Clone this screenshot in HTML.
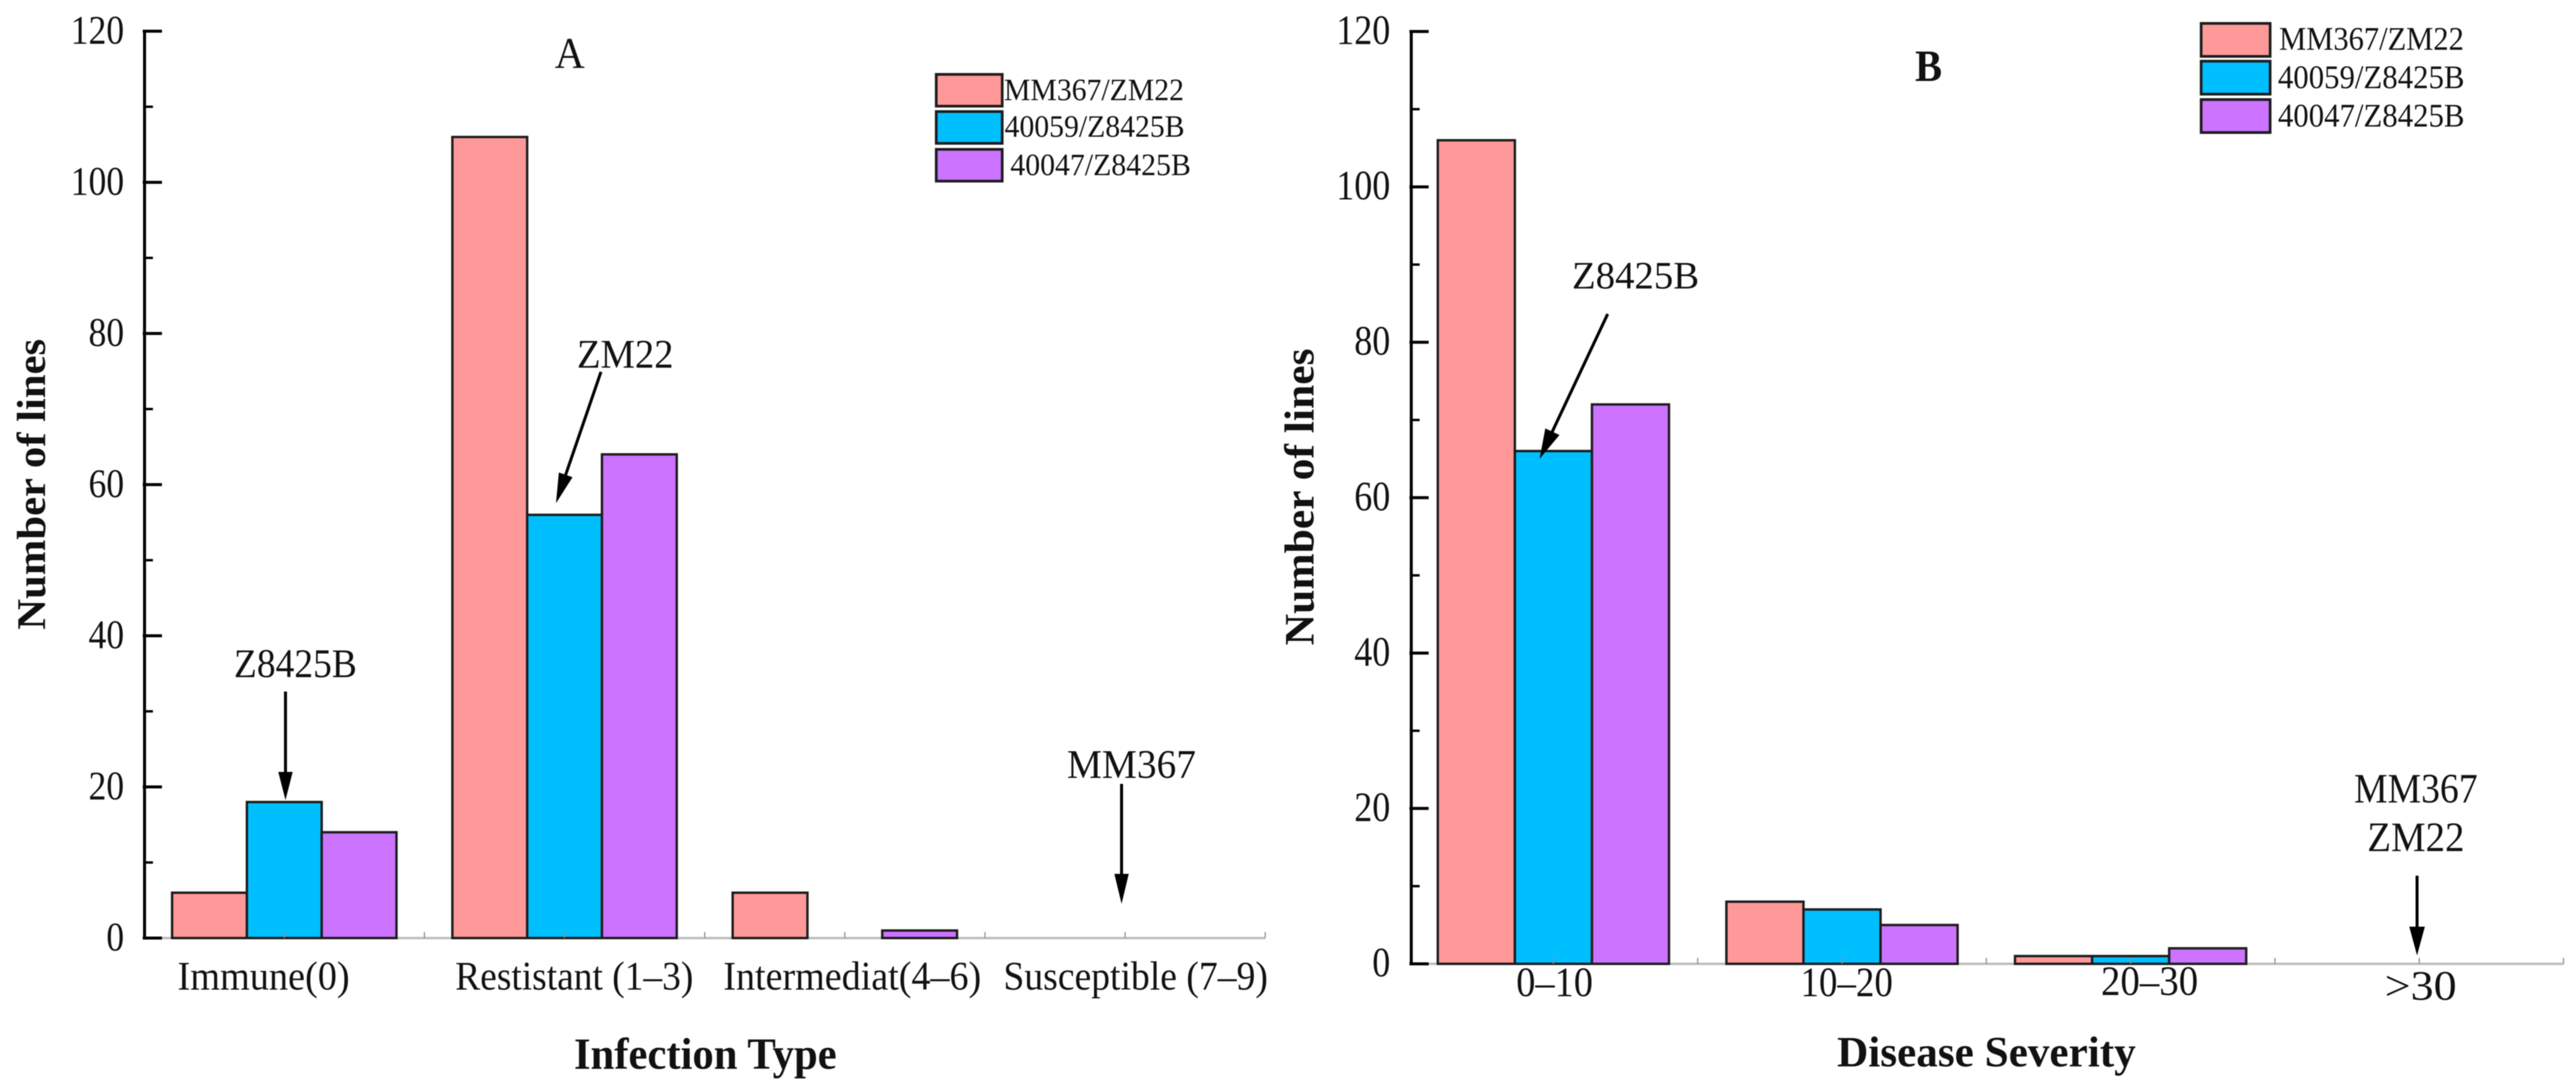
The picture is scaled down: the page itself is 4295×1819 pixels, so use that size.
<!DOCTYPE html>
<html lang="en">
<head>
<meta charset="utf-8">
<title>Number of lines by infection type and disease severity</title>
<style>
  html, body { margin: 0; padding: 0; background: #fff; }
  body { width: 4295px; height: 1819px; overflow: hidden; }
  svg { display: block; filter: blur(0.9px); }
  text { font-family: "Liberation Serif", "Times New Roman", serif; fill: #111; }
</style>
</head>
<body>
<svg id="figure" xmlns="http://www.w3.org/2000/svg" width="4295" height="1819" viewBox="0 0 4295 1819">
  <rect x="0" y="0" width="4295" height="1819" fill="#fff"/>
  <g id="panel-a"></g>
  <g id="panel-b"></g>

  <g>
    <text x="925" y="113" font-size="73" textLength="50" lengthAdjust="spacingAndGlyphs">A</text>

    <text x="962" y="613" font-size="68" textLength="161" lengthAdjust="spacingAndGlyphs">ZM22</text>
    <g>
      <line x1="1002" y1="620" x2="943" y2="792" stroke="#000" stroke-width="5"/>
      <polygon points="927,839 954.6,795.6 931.8,787.8" fill="#000"/>
    </g>

    <text x="390" y="1129" font-size="68" textLength="205" lengthAdjust="spacingAndGlyphs">Z8425B</text>
    <g>
      <line x1="476" y1="1153" x2="476" y2="1290" stroke="#000" stroke-width="5"/>
      <polygon points="476,1334 464,1287 488,1287" fill="#000"/>
    </g>

    <text x="1779" y="1297" font-size="68" textLength="215" lengthAdjust="spacingAndGlyphs">MM367</text>
    <g>
      <line x1="1870" y1="1307" x2="1870" y2="1460" stroke="#000" stroke-width="5"/>
      <polygon points="1870,1507 1858,1457 1882,1457" fill="#000"/>
    </g>
  </g>

  <g>
    <text x="3193" y="135" font-size="74" font-weight="700" textLength="45" lengthAdjust="spacingAndGlyphs">B</text>

    <text x="2621" y="481" font-size="65" textLength="212" lengthAdjust="spacingAndGlyphs">Z8425B</text>
    <g>
      <line x1="2680.5" y1="523.5" x2="2588" y2="720" stroke="#000" stroke-width="5"/>
      <polygon points="2567,765 2600.1,725.3 2576.5,714.3" fill="#000"/>
    </g>

    <text x="3925" y="1338" font-size="70" textLength="206" lengthAdjust="spacingAndGlyphs">MM367</text>
    <text x="3947" y="1419" font-size="70" textLength="162" lengthAdjust="spacingAndGlyphs">ZM22</text>
    <g>
      <line x1="4030" y1="1460" x2="4030" y2="1548" stroke="#000" stroke-width="5"/>
      <polygon points="4030,1593 4017,1545 4043,1545" fill="#000"/>
    </g>
  </g>
</svg>

<script>
// ---- Chart data ----
const seriesNames = ['MM367/ZM22', '40059/Z8425B', '40047/Z8425B'];
const seriesColors = ['#FF9999', '#00BFFF', '#CC73FF'];

const yTickValues = [0, 20, 40, 60, 80, 100, 120];
const yMinorTickValues = [10, 30, 50, 70, 90, 110];

const infectionCategories = ['Immune(0)', 'Restistant (1–3)', 'Intermediat(4–6)', 'Susceptible (7–9)'];
const infectionMM367 = [6, 106, 6, 0];
const infection40059 = [18, 56, 0, 0];
const infection40047 = [14, 64, 1, 0];

const severityCategories = ['0–10', '10–20', '20–30', '>30'];
const severityMM367 = [106, 8, 1, 0];
const severity40059 = [66, 7, 1, 0];
const severity40047 = [72, 5, 2, 0];

// ---- Rendering ----
const SVG_NS = 'http://www.w3.org/2000/svg';

function make(parent, tag, attrs, content) {
  const el = document.createElementNS(SVG_NS, tag);
  for (const key in attrs) el.setAttribute(key, attrs[key]);
  if (content !== undefined) el.textContent = content;
  parent.appendChild(el);
  return el;
}

function drawPanel(cfg) {
  const root = document.getElementById(cfg.id);
  const yMax = yTickValues[yTickValues.length - 1];
  const yScale = v => cfg.y0 - v * (cfg.y0 - cfg.yTop) / yMax;
  const xCenter = i => cfg.firstCenter + i * cfg.step;
  const xAxisEnd = xCenter(cfg.categories.length - 1) + cfg.step / 2;

  // x-axis baseline
  const baseline = make(root, 'line', {
    x1: cfg.axisX, y1: cfg.y0, x2: xAxisEnd, y2: cfg.y0, stroke: '#bdbdbd', 'stroke-width': 4
  });
  
  

  // bars
  cfg.series.forEach((values, s) => {
    values.forEach((value, i) => {
      if (value <= 0) return;
      const bar = make(root, 'rect', {
        x: xCenter(i) + (s - 1.5) * cfg.barWidth,
        y: yScale(value),
        width: cfg.barWidth,
        height: yScale(0) - yScale(value),
        fill: seriesColors[s],
        stroke: '#1c1c1c',
        'stroke-width': 4
      });
      
      
    });
  });

  // x-axis ticks (category centres and midpoints)
  for (let k = 0; k < cfg.categories.length * 2; k++) {
    const x = cfg.firstCenter + k * cfg.step / 2;
    const xTick = make(root, 'line', {
      x1: x, y1: cfg.y0, x2: x, y2: cfg.y0 - 10, stroke: '#8f8f8f', 'stroke-width': 2
    });
    
    
  }

  // y axis
  const yAxis = make(root, 'line', {
    x1: cfg.axisX, y1: cfg.yTop - 2.5, x2: cfg.axisX, y2: cfg.y0 + 2.5, stroke: '#000', 'stroke-width': 5
  });
  
  

  yMinorTickValues.forEach(v => {
    const minor = make(root, 'line', {
      x1: cfg.axisX, y1: yScale(v), x2: cfg.axisX + 14, y2: yScale(v), stroke: '#000', 'stroke-width': 4
    });
    
    
  });

  yTickValues.forEach(v => {
    const major = make(root, 'line', {
      x1: cfg.axisX - 3, y1: yScale(v), x2: cfg.axisX + 29, y2: yScale(v), stroke: '#000', 'stroke-width': 5
    });
    
    

    const str = String(v);
    const w = str.length * cfg.tickDigitWidth;
    const label = make(root, 'text', {
      x: cfg.tickLabelRight - w,
      y: yScale(v) + 21,
      'font-size': cfg.tickFont,
      textLength: w,
      lengthAdjust: 'spacingAndGlyphs'
    }, str);
    
    
  });

  // category labels
  cfg.categories.forEach((name, i) => {
    const box = cfg.categoryBoxes[i];
    const catLabel = make(root, 'text', {
      x: box.left,
      y: box.base,
      'font-size': cfg.catFont,
      textLength: box.len,
      lengthAdjust: 'spacingAndGlyphs'
    }, name);
    
    
  });

  // axis titles
  const xt = cfg.xTitle;
  const xTitle = make(root, 'text', {
    x: xt.left, y: xt.base, 'font-size': xt.font, 'font-weight': 700,
    textLength: xt.len, lengthAdjust: 'spacingAndGlyphs'
  }, xt.text);
  
  

  const yt = cfg.yTitle;
  const yTitle = make(root, 'text', {
    transform: 'translate(' + yt.base + ',' + yt.bottom + ') rotate(-90)',
    x: 0, y: 0, 'font-size': yt.font, 'font-weight': 700,
    textLength: yt.len, lengthAdjust: 'spacingAndGlyphs'
  }, yt.text);
  
  

  // legend
  const legend = make(root, 'g', {});
  
  
  seriesNames.forEach((name, s) => {
    const row = cfg.legendRows[s];
    const swatch = make(legend, 'rect', {
      x: cfg.legendSwatch.left, y: row.top,
      width: cfg.legendSwatch.w, height: cfg.legendSwatch.h,
      fill: seriesColors[s], stroke: '#1c1c1c', 'stroke-width': 4.5
    });
    
    
    const entry = make(legend, 'text', {
      x: row.textLeft, y: row.base, 'font-size': cfg.legendFont,
      textLength: row.len, lengthAdjust: 'spacingAndGlyphs'
    }, name);
    
    
  });
}

drawPanel({
  id: 'panel-a',
  categories: infectionCategories,
  series: [infectionMM367, infection40059, infection40047],
  axisX: 241, y0: 1564, yTop: 52,
  firstCenter: 474, step: 467.3, barWidth: 124.7,
  tickFont: 68, tickDigitWidth: 29.7, tickLabelRight: 207,
  catFont: 68,
  categoryBoxes: [
    { left: 296, base: 1650, len: 287 },
    { left: 759, base: 1650, len: 397 },
    { left: 1206, base: 1650, len: 430 },
    { left: 1673, base: 1650, len: 441 }
  ],
  xTitle: { text: 'Infection Type', left: 957, base: 1782, font: 74, len: 438 },
  yTitle: { text: 'Number of lines', base: 75, bottom: 1050, font: 68, len: 485 },
  legendSwatch: { left: 1561, w: 110, h: 53 },
  legendFont: 52,
  legendRows: [
    { top: 124, textLeft: 1674, base: 167, len: 300 },
    { top: 186, textLeft: 1675, base: 228, len: 300 },
    { top: 249, textLeft: 1684.5, base: 292, len: 301 }
  ]
});

drawPanel({
  id: 'panel-b',
  categories: severityCategories,
  series: [severityMM367, severity40059, severity40047],
  axisX: 2353, y0: 1607, yTop: 52.5,
  firstCenter: 2590, step: 481.2, barWidth: 128.5,
  tickFont: 70, tickDigitWidth: 30, tickLabelRight: 2318,
  catFont: 70,
  categoryBoxes: [
    { left: 2528, base: 1661, len: 128 },
    { left: 3002, base: 1661, len: 154 },
    { left: 3503, base: 1659, len: 162 },
    { left: 3976, base: 1667, len: 120 }
  ],
  xTitle: { text: 'Disease Severity', left: 3063, base: 1778, font: 72, len: 498 },
  yTitle: { text: 'Number of lines', base: 2190, bottom: 1076, font: 70, len: 495 },
  legendSwatch: { left: 3670, w: 115, h: 55 },
  legendFont: 55,
  legendRows: [
    { top: 39, textLeft: 3800, base: 83, len: 308 },
    { top: 102, textLeft: 3798, base: 147, len: 311 },
    { top: 166, textLeft: 3798, base: 211, len: 311 }
  ]
});
</script>
</body>
</html>
